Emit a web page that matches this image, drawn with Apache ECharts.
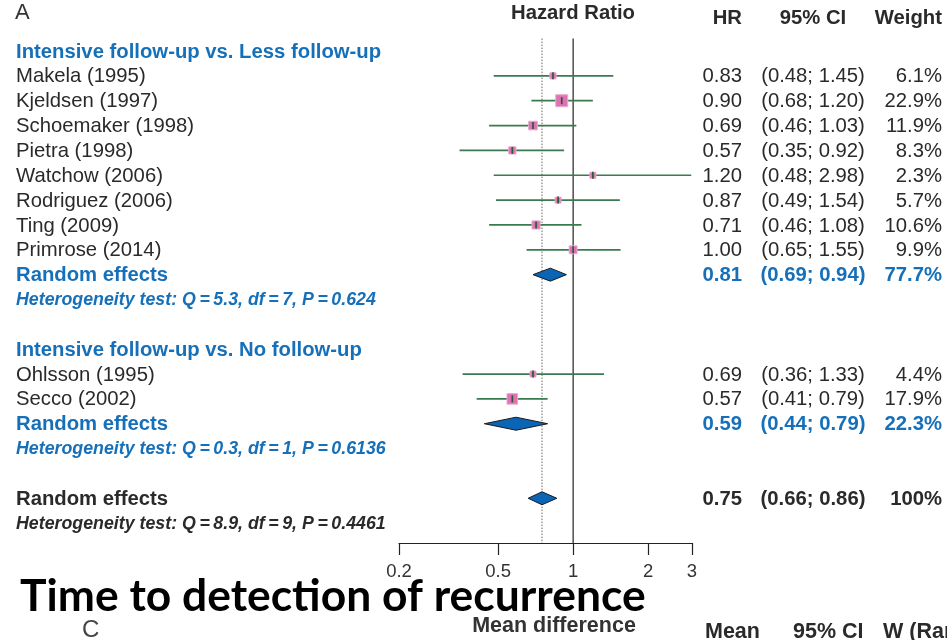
<!DOCTYPE html>
<html>
<head>
<meta charset="utf-8">
<script src="https://cdn.jsdelivr.net/npm/echarts@6/dist/echarts.min.js"></script>
<style>
  html, body { margin: 0; padding: 0; background: #fff; }
  #chart { width: 947px; height: 640px; }
</style>
</head>
<body>
<div id="chart"></div>
<script>
// ---- Subgroup 1: intensive follow-up vs. less follow-up ----
const group1Studies = ['Makela (1995)', 'Kjeldsen (1997)', 'Schoemaker (1998)', 'Pietra (1998)',
                       'Watchow (2006)', 'Rodriguez (2006)', 'Ting (2009)', 'Primrose (2014)'];
const group1HR     = [0.83, 0.90, 0.69, 0.57, 1.20, 0.87, 0.71, 1.00];
const group1Lower  = [0.48, 0.68, 0.46, 0.35, 0.48, 0.49, 0.46, 0.65];
const group1Upper  = [1.45, 1.20, 1.03, 0.92, 2.98, 1.54, 1.08, 1.55];
const group1Weight = [6.1, 22.9, 11.9, 8.3, 2.3, 5.7, 10.6, 9.9];

// ---- Subgroup 2: intensive follow-up vs. no follow-up ----
const group2Studies = ['Ohlsson (1995)', 'Secco (2002)'];
const group2HR     = [0.69, 0.57];
const group2Lower  = [0.36, 0.41];
const group2Upper  = [1.33, 0.79];
const group2Weight = [4.4, 17.9];

// ---- Pooled random-effects estimates: subgroup 1, subgroup 2, overall ----
const pooledHR     = [0.81, 0.59, 0.75];
const pooledLower  = [0.69, 0.44, 0.66];
const pooledUpper  = [0.94, 0.79, 0.86];
const pooledWeight = [77.7, 22.3, 100];

// ---- Heterogeneity tests: subgroup 1, subgroup 2, overall ----
const hetQ  = ['5.3', '0.3', '8.9'];
const hetDf = ['7', '1', '9'];
const hetP  = ['0.624', '0.6136', '0.4461'];

const groupTitles = ['Intensive follow-up vs. Less follow-up', 'Intensive follow-up vs. No follow-up'];
const axisTicks = [0.2, 0.5, 1, 2, 3];

// Row layout (row index on the hidden vertical axis)
const group1Rows = group1Studies.map((_, i) => 1 + i);
const group2Rows = group2Studies.map((_, i) => 13 + i);
const headerRows = [0, 12];
const pooledRows = [9, 15, 18];
const hetRows = [10, 16, 19];

const BLUE = '#1670b9';
const DARK = '#2a2a2a';
const FONT = '"Liberation Sans", Arial, Helvetica, sans-serif';
const FS = 20.3;

const studyData = [];
group1Studies.forEach((_, i) => studyData.push([group1HR[i], group1Rows[i], group1Lower[i], group1Upper[i], group1Weight[i]]));
group2Studies.forEach((_, i) => studyData.push([group2HR[i], group2Rows[i], group2Lower[i], group2Upper[i], group2Weight[i]]));

const pooledData = pooledHR.map((v, i) => [v, pooledRows[i], pooledLower[i], pooledUpper[i]]);

const chart = echarts.init(document.getElementById('chart'), null, { renderer: 'canvas' });

chart.setOption({
  animation: false,
  backgroundColor: '#fff',
  grid: { left: 399, right: 255, top: 38.6, bottom: 97, containLabel: false },
  xAxis: {
    type: 'log',
    logBase: 10,
    min: 0.2,
    max: 3,
    position: 'bottom',
    axisLine: { show: true, onZero: false, lineStyle: { color: '#222', width: 1.2 } },
    axisTick: { show: true, customValues: axisTicks, length: 12, inside: false, lineStyle: { color: '#222', width: 1.2 } },
    axisLabel: {
      show: true, customValues: axisTicks, margin: 19,
      color: '#333', fontSize: 18.5, fontFamily: FONT,
      formatter: v => String(v)
    },
    splitLine: { show: false },
    minorTick: { show: false }
  },
  yAxis: {
    type: 'value', min: -0.5, max: 19.8, inverse: true, show: false
  },
  series: [
    {
      // line of no effect
      type: 'line', data: [[1, -0.5], [1, 19.8]], symbol: 'none', silent: true,
      lineStyle: { color: '#222', width: 1.2 }, z: 1
    },
    {
      // overall pooled estimate reference
      type: 'line', data: [[pooledHR[2], -0.5], [pooledHR[2], 19.8]], symbol: 'none', silent: true,
      lineStyle: { color: '#666', width: 1, type: [1.5, 1.5] }, z: 1
    },
    {
      // individual studies: CI whisker, weighted square, estimate tick
      type: 'custom',
      data: studyData,
      z: 3,
      renderItem(params, api) {
        const y = api.coord([1, api.value(1)])[1];
        const xe = api.coord([api.value(0), 0])[0];
        const xl = api.coord([api.value(2), 0])[0];
        const xh = api.coord([api.value(3), 0])[0];
        const s = Math.max(6, 2.5 * Math.sqrt(api.value(4)));
        return {
          type: 'group',
          children: [
            { type: 'line', shape: { x1: xl, y1: y, x2: xh, y2: y }, style: { stroke: '#3a7a4e', lineWidth: 1.7 } },
            { type: 'rect', shape: { x: xe - s / 2, y: y - s / 2, width: s, height: s },
              style: { fill: '#de72b3', stroke: '#eba8cf', lineWidth: 1 } },
            { type: 'line', shape: { x1: xe, y1: y - 3.5, x2: xe, y2: y + 3.5 }, style: { stroke: '#2b5a39', lineWidth: 1.7 } }
          ]
        };
      }
    },
    {
      // pooled random-effects diamonds
      type: 'custom',
      data: pooledData,
      z: 4,
      renderItem(params, api) {
        const y = api.coord([1, api.value(1)])[1];
        const xe = api.coord([api.value(0), 0])[0];
        const xl = api.coord([api.value(2), 0])[0];
        const xh = api.coord([api.value(3), 0])[0];
        const h = 6.5;
        return {
          type: 'polygon',
          shape: { points: [[xl, y], [xe, y - h], [xh, y], [xe, y + h]] },
          style: { fill: '#0b65b6', stroke: '#1a1a1a', lineWidth: 1 }
        };
      }
    }
  ]
});

// ---- Table text: labels and numeric columns aligned to the row axis ----
const rowY = r => chart.convertToPixel({ yAxisIndex: 0 }, r) + 1;
const fmt2 = v => v.toFixed(2);
const fmtCI = (lo, hi) => '(' + fmt2(lo) + '; ' + fmt2(hi) + ')';
const fmtW = w => (w === 100 ? '100' : w.toFixed(1)) + '%';

const X_LABEL = 16, X_HR = 742, X_CI = 813, X_W = 942;
const texts = [];
function txt(x, y, s, opt) {
  texts.push({
    type: 'text', x: x, y: y, silent: true,
    style: Object.assign({
      text: s, fontFamily: FONT, fontSize: FS, fill: DARK,
      textAlign: 'left', textVerticalAlign: 'middle'
    }, opt || {})
  });
}
function rowCols(y, hr, lo, hi, w, opt) {
  txt(X_HR, y, fmt2(hr), Object.assign({ textAlign: 'right' }, opt));
  txt(X_CI, y, fmtCI(lo, hi), Object.assign({ textAlign: 'center' }, opt));
  txt(X_W, y, fmtW(w), Object.assign({ textAlign: 'right' }, opt));
}

// column headers
txt(15, 13, 'A', { fontSize: 22, fill: '#333' });
txt(573, 13, 'Hazard Ratio', { fontWeight: 'bold', textAlign: 'center' });
txt(X_HR, 18, 'HR', { fontWeight: 'bold', textAlign: 'right' });
txt(X_CI, 18, '95% CI', { fontWeight: 'bold', textAlign: 'center' });
txt(X_W, 18, 'Weight', { fontWeight: 'bold', textAlign: 'right' });

// subgroup titles
headerRows.forEach((r, g) => txt(X_LABEL, rowY(r), groupTitles[g], { fontWeight: 'bold', fill: BLUE }));

// studies
group1Studies.forEach((n, i) => {
  const y = rowY(group1Rows[i]);
  txt(X_LABEL, y, n);
  rowCols(y, group1HR[i], group1Lower[i], group1Upper[i], group1Weight[i]);
});
group2Studies.forEach((n, i) => {
  const y = rowY(group2Rows[i]);
  txt(X_LABEL, y, n);
  rowCols(y, group2HR[i], group2Lower[i], group2Upper[i], group2Weight[i]);
});

// pooled rows and heterogeneity lines
pooledRows.forEach((r, i) => {
  const color = i < 2 ? BLUE : DARK;
  const y = rowY(r);
  txt(X_LABEL, y, 'Random effects', { fontWeight: 'bold', fill: color });
  rowCols(y, pooledHR[i], pooledLower[i], pooledUpper[i], pooledWeight[i], { fontWeight: 'bold', fill: color });
  txt(X_LABEL, rowY(hetRows[i]),
      'Heterogeneity test: Q\u2009=\u2009' + hetQ[i] + ', df\u2009=\u2009' + hetDf[i] + ', P\u2009=\u2009' + hetP[i],
      { fontWeight: 'bold', fontStyle: 'italic', fontSize: 17.8, fill: color });
});

// slide title and the start of the next panel below it
txt(20, 597, 'Time to detection of recurrence', { fontFamily: 'Lato, "Open Sans", sans-serif', fontWeight: 'bold', fontSize: 44.4, fill: '#000' });
txt(82, 630, 'C', { fontSize: 24, fill: '#444' });
txt(554, 626, 'Mean difference', { fontWeight: 'bold', fontSize: 21.5, textAlign: 'center', fill: '#333' });
txt(705, 632, 'Mean', { fontWeight: 'bold', fontSize: 21.5 });
txt(793, 632, '95% CI', { fontWeight: 'bold', fontSize: 21.5 });
txt(883, 632, 'W (Random)', { fontWeight: 'bold', fontSize: 21.5 });

chart.setOption({ graphic: { elements: texts } });
</script>
</body>
</html>
